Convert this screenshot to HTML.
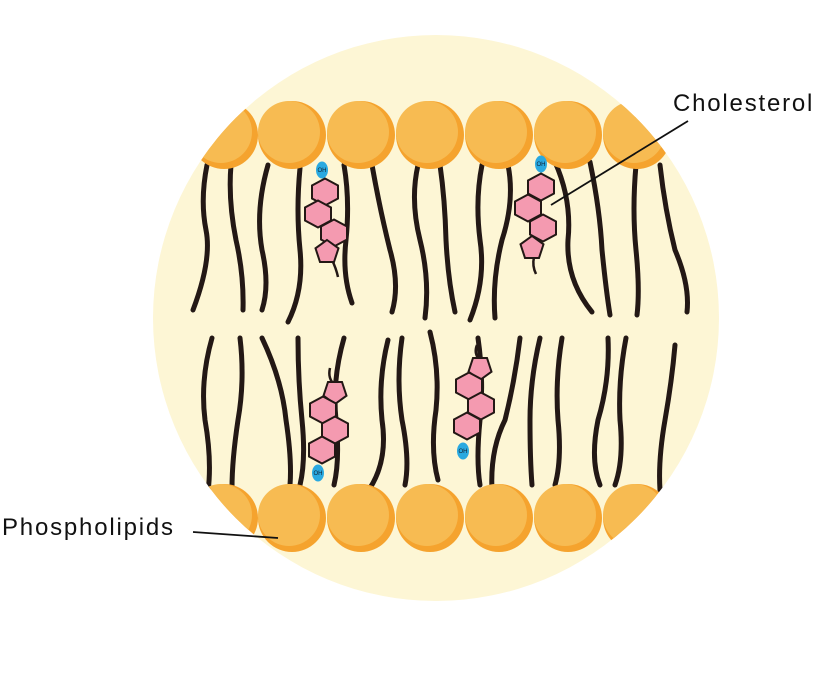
<!DOCTYPE html>
<html><head><meta charset="utf-8"><style>
html,body{margin:0;padding:0;background:#fff;}
svg{display:block;}
text{font-family:"Liberation Sans",sans-serif;font-size:24px;letter-spacing:1.8px;fill:#111;}
</style></head><body>
<svg width="818" height="676" viewBox="0 0 818 676" xmlns="http://www.w3.org/2000/svg">
<defs>
<clipPath id="c"><circle cx="436" cy="318" r="283"/></clipPath>
<g id="head"><circle cx="0" cy="0" r="34" fill="#f5a32e"/><circle cx="-3" cy="-3" r="31" fill="#f7bb52"/></g>
<polygon id="hex" points="0,-13.5 13,-6.5 13,6.5 0,13.5 -13,6.5 -13,-6.5" fill="#f49ab0" stroke="#231815" stroke-width="2"/>
<polygon id="pent" points="0,-12 11.5,-3.7 7,10 -7,10 -11.5,-3.7" fill="#f49ab0" stroke="#231815" stroke-width="2"/>
<g id="oh"><ellipse cx="0" cy="0" rx="6" ry="8.5" fill="#2aa9e0"/><text x="0" y="2" text-anchor="middle" style="font-size:6px;letter-spacing:0;fill:#123">OH</text></g>
</defs>
<circle cx="436" cy="318" r="283" fill="#fdf6d5"/>
<g clip-path="url(#c)" fill="none" stroke="#231815" stroke-width="5" stroke-linecap="round">
<path d="M207 165 Q200 200 206 230 Q212 260 193 310"/>
<path d="M231 165 Q228 200 236 240 Q244 275 243 310"/>
<path d="M268 165 Q255 210 262 250 Q270 285 262 310"/>
<path d="M300 168 Q296 210 300 250 Q304 290 288 322"/>
<path d="M344 165 Q350 200 346 240 Q342 275 352 303"/>
<path d="M372 165 Q380 210 390 250 Q400 285 392 312"/>
<path d="M418 165 Q410 200 420 240 Q430 280 425 318"/>
<path d="M440 165 Q445 200 446 240 Q448 280 455 312"/>
<path d="M482 165 Q475 200 480 240 Q486 280 470 320"/>
<path d="M508 165 Q515 200 502 240 Q492 280 495 318"/>
<path d="M555 162 Q572 200 568 240 Q566 280 592 312"/>
<path d="M590 162 Q600 210 602 250 Q606 290 610 315"/>
<path d="M636 165 Q632 210 636 250 Q640 290 637 315"/>
<path d="M660 165 Q665 210 675 250 Q690 285 687 312"/>
<path d="M212 338 Q200 380 205 420 Q212 460 208 492"/>
<path d="M240 338 Q245 380 238 420 Q232 460 232 488"/>
<path d="M262 338 Q282 380 286 420 Q292 460 290 485"/>
<path d="M298 338 Q298 380 302 420 Q306 460 300 485"/>
<path d="M344 338 Q332 380 336 420 Q340 460 334 485"/>
<path d="M388 340 Q378 380 382 420 Q388 460 370 488"/>
<path d="M402 338 Q396 380 402 420 Q410 460 405 485"/>
<path d="M430 332 Q440 370 436 410 Q430 450 438 480"/>
<path d="M478 338 Q484 380 480 420 Q476 460 480 485"/>
<path d="M520 338 Q515 380 505 420 Q490 450 492 490"/>
<path d="M540 338 Q530 380 530 420 Q530 460 532 485"/>
<path d="M562 338 Q555 380 558 420 Q562 460 555 485"/>
<path d="M608 338 Q610 380 598 420 Q590 460 600 485"/>
<path d="M626 338 Q618 380 620 420 Q624 460 615 485"/>
<path d="M675 345 Q672 380 665 420 Q658 460 660 490"/>
</g>
<g clip-path="url(#c)">
<use href="#head" x="224" y="135"/><use href="#head" x="292" y="135"/><use href="#head" x="361" y="135"/><use href="#head" x="430" y="135"/><use href="#head" x="499" y="135"/><use href="#head" x="568" y="135"/><use href="#head" x="637" y="135"/>
<use href="#head" x="224" y="518"/><use href="#head" x="292" y="518"/><use href="#head" x="361" y="518"/><use href="#head" x="430" y="518"/><use href="#head" x="499" y="518"/><use href="#head" x="568" y="518"/><use href="#head" x="637" y="518"/>
</g>
<g fill="none" stroke="#231815" stroke-width="2.5"><path d="M332 260 Q336 268 338 277"/><path d="M534 257 Q532 266 536 274"/><path d="M332 382 Q328 376 330 368"/><path d="M478 358 Q474 352 477 345"/></g>
<use href="#oh" x="322" y="170"/>
<use href="#hex" x="325" y="192"/><use href="#hex" x="318" y="214"/><use href="#hex" x="334" y="233"/><use href="#pent" x="327" y="252"/>
<use href="#oh" x="541" y="164"/>
<use href="#hex" x="541" y="187"/><use href="#hex" x="528" y="208"/><use href="#hex" x="543" y="228"/><use href="#pent" x="532" y="248"/>
<use href="#pent" x="335" y="392" transform="rotate(180 335 392)"/><use href="#hex" x="323" y="410"/><use href="#hex" x="335" y="430"/><use href="#hex" x="322" y="450"/>
<use href="#oh" x="318" y="473"/>
<use href="#pent" x="480" y="368" transform="rotate(180 480 368)"/><use href="#hex" x="469" y="386"/><use href="#hex" x="481" y="406"/><use href="#hex" x="467" y="426"/>
<use href="#oh" x="463" y="451"/>
<line x1="688" y1="121" x2="551" y2="205" stroke="#111" stroke-width="1.8"/>
<text x="673" y="111">Cholesterol</text>
<line x1="193" y1="532" x2="278" y2="538" stroke="#111" stroke-width="1.8"/>
<text x="2" y="535">Phospholipids</text>
</svg>
</body></html>
